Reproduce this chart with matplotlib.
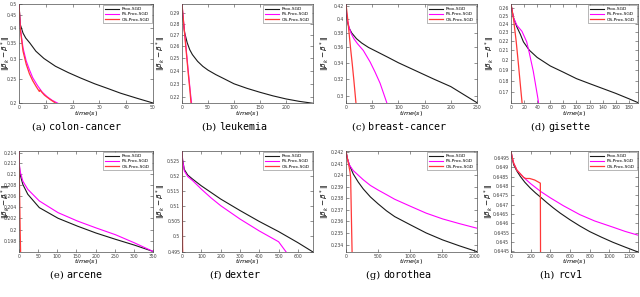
import matplotlib
matplotlib.use("Agg")
import matplotlib.pyplot as plt
from matplotlib.ticker import FixedLocator, FixedFormatter, NullLocator

# ---- data (time in s, ||beta_k - beta*||) ----
# (a) colon-cancer
colon_t_prox = [0, 0.5, 1.5, 2.5, 4, 6.3, 9.3, 13.6, 18.4, 23, 28.2, 33, 37.9, 44, 50]
colon_v_prox = [0.5, 0.413, 0.382, 0.365, 0.349, 0.323, 0.302, 0.281, 0.265, 0.252, 0.239, 0.229, 0.219, 0.209, 0.2]
colon_t_fs = [0, 0.5, 1.5, 2.7, 3.9, 5.1, 6.9, 8.7, 10.5, 12.4, 15.5]
colon_v_fs = [0.5, 0.4, 0.333, 0.295, 0.272, 0.253, 0.235, 0.221, 0.212, 0.205, 0.197]
colon_t_os = [0, 0.5, 1.5, 2.7, 3.9, 5.1, 6.5, 7.6, 7.8, 9.5, 11.5, 14.5]
colon_v_os = [0.5, 0.395, 0.323, 0.286, 0.262, 0.246, 0.232, 0.2225, 0.2255, 0.215, 0.207, 0.197]

# (b) leukemia
leuk_t_prox = [0, 1, 2.5, 5, 10, 15, 20, 30, 40, 50, 65, 80, 100, 125, 150, 175, 200, 225, 252]
leuk_v_prox = [0.2985, 0.29, 0.282, 0.272, 0.263, 0.257, 0.253, 0.2475, 0.2435, 0.2405, 0.237, 0.234, 0.23,
               0.2266, 0.2237, 0.2211, 0.2189, 0.2172, 0.2158]
leuk_t_fs = [0, 4, 8, 12, 16, 19]
leuk_v_fs = [0.2985, 0.277, 0.258, 0.24, 0.224, 0.214]
leuk_t_os = [0, 4, 8, 12, 15.5, 17.5]
leuk_v_os = [0.2985, 0.276, 0.256, 0.238, 0.224, 0.215]

# (c) breast-cancer
breast_t_prox = [0, 1, 3, 6, 11, 20, 30, 43, 60, 80, 100, 133, 167, 200, 250]
breast_v_prox = [0.4235, 0.405, 0.395, 0.387, 0.38, 0.372, 0.366, 0.36, 0.354, 0.347, 0.34, 0.33, 0.32, 0.311, 0.2928]
breast_t_fs = [0, 1, 3, 6, 10, 15, 22, 33, 46, 55, 65, 78]
breast_v_fs = [0.4235, 0.41, 0.398, 0.388, 0.379, 0.372, 0.365, 0.356, 0.341, 0.329, 0.315, 0.2925]
breast_t_os = [0, 3, 6, 9, 12, 15, 19]
breast_v_os = [0.4235, 0.402, 0.379, 0.357, 0.338, 0.3185, 0.2925]

# (d) gisette
gis_t_prox = [0, 2, 4, 9, 14, 19, 28, 40, 60, 80, 100, 120, 140, 160, 180, 194]
gis_v_prox = [0.265, 0.255, 0.247, 0.236, 0.228, 0.219, 0.21, 0.2025, 0.194, 0.188, 0.182, 0.1775, 0.1732, 0.169, 0.1645, 0.1613]
gis_t_fs = [0, 2, 4, 9, 16.7, 24, 28, 34, 41, 43]
gis_v_fs = [0.265, 0.254, 0.247, 0.238, 0.231, 0.219, 0.207, 0.189, 0.165, 0.158]
gis_t_os = [0, 2, 4, 8, 11.6, 15, 17.5]
gis_v_os = [0.265, 0.255, 0.245, 0.219, 0.194, 0.172, 0.158]

# (e) arcene
arc_t_prox = [0, 1, 3, 10, 23, 53, 102, 153, 201, 252, 301, 350]
arc_v_prox = [0.2143, 0.2115, 0.2099, 0.2081, 0.2063, 0.2039, 0.202, 0.2006, 0.1994, 0.1983, 0.1973, 0.1962]
arc_t_fs = [0, 1, 3, 10, 23, 53, 102, 153, 201, 252, 301, 350]
arc_v_fs = [0.2143, 0.2118, 0.2105, 0.2087, 0.2072, 0.2051, 0.203, 0.2015, 0.2003, 0.1991, 0.1977, 0.1962]
arc_t_os = [0, 1.5, 3, 4.5]
arc_v_os = [0.2143, 0.207, 0.2, 0.195]

# (f) dexter
dex_t_prox = [0, 3, 12, 30, 56, 100, 150, 200, 300, 400, 500, 600, 678]
dex_v_prox = [0.5285, 0.5255, 0.5222, 0.5203, 0.5189, 0.5167, 0.5145, 0.5123, 0.5085, 0.5049, 0.5016, 0.498, 0.495]
dex_t_fs = [0, 3, 12, 30, 56, 100, 150, 200, 300, 400, 500, 545]
dex_v_fs = [0.5285, 0.5255, 0.5217, 0.5198, 0.5184, 0.5156, 0.5127, 0.5101, 0.5057, 0.5018, 0.4983, 0.4945]
dex_t_os = [0, 1.5, 3, 4]
dex_v_os = [0.5285, 0.512, 0.497, 0.494]

# (g) dorothea
dor_t_prox = [0, 20, 52, 113, 190, 268, 380, 500, 630, 758, 1000, 1247, 1505, 1763, 2040]
dor_v_prox = [0.2421, 0.2415, 0.2409, 0.2401, 0.2394, 0.2388, 0.2381, 0.2375, 0.2369, 0.2364, 0.2357, 0.235, 0.2344, 0.2339, 0.2334]
dor_t_fs = [0, 20, 52, 113, 190, 268, 380, 500, 630, 758, 1000, 1247, 1505, 1763, 2040]
dor_v_fs = [0.2421, 0.2415, 0.2409, 0.2404, 0.24, 0.2396, 0.2391, 0.2387, 0.2383, 0.2379, 0.2373, 0.2367, 0.2362, 0.2358, 0.2354]
dor_t_os = [0, 20, 45, 62, 72, 96]
dor_v_os = [0.2421, 0.2415, 0.2408, 0.2403, 0.2398, 0.233]

# (h) rcv1
rcv_t_prox = [0, 10, 27, 60, 94, 140, 195, 250, 302, 363, 430, 500, 600, 700, 800, 920, 1035, 1160, 1290]
rcv_v_prox = [0.64988, 0.64955, 0.64914, 0.6488, 0.64852, 0.6482, 0.64789, 0.64762, 0.64739, 0.64711, 0.64682,
              0.64654, 0.64618, 0.64585, 0.64555, 0.64525, 0.64498, 0.64472, 0.64446]
rcv_t_fs = [0, 10, 27, 60, 128, 200, 302, 400, 531, 699, 850, 1035, 1160, 1290]
rcv_v_fs = [0.64988, 0.64958, 0.64923, 0.64885, 0.64846, 0.64812, 0.6477, 0.64736, 0.64694, 0.64646, 0.64612,
            0.64579, 0.64556, 0.64536]
rcv_t_os = [0, 10, 27, 60, 128, 150, 190, 240, 298, 300]
rcv_v_os = [0.64988, 0.64958, 0.64923, 0.64885, 0.64846, 0.6484, 0.6484, 0.64832, 0.64815, 0.6444]

labels = ["Prox-SGD", "FS-Prox-SGD", "OS-Prox-SGD"]
letters = ["a", "b", "c", "d", "e", "f", "g", "h"]
names = ["colon-cancer", "leukemia", "breast-cancer", "gisette", "arcene", "dexter", "dorothea", "rcv1"]

xlims = [(0, 50), (0, 252), (0, 250), (0, 194), (0, 350), (0, 678), (0, 2040), (0, 1290)]
xticks = [range(0, 51, 10), range(0, 201, 50), range(0, 251, 50), range(0, 181, 20),
          range(0, 351, 50), range(0, 601, 100), range(0, 2001, 500), range(0, 1201, 200)]
ylims = [(0.2, 0.5), (0.216, 0.2985), (0.2925, 0.4235), (0.161, 0.265),
         (0.1961, 0.2143), (0.495, 0.5285), (0.23337, 0.24212), (0.64446, 0.64988)]
ytick_labels = [["0.2", "0.25", "0.3", "0.35", "0.4", "0.45", "0.5"],
                ["0.22", "0.23", "0.24", "0.25", "0.26", "0.27", "0.28", "0.29"],
                ["0.3", "0.32", "0.34", "0.36", "0.38", "0.4", "0.42"],
                ["0.17", "0.18", "0.19", "0.2", "0.21", "0.22", "0.23", "0.24", "0.25", "0.26"],
                ["0.198", "0.2", "0.202", "0.204", "0.206", "0.208", "0.21", "0.212", "0.214"],
                ["0.495", "0.5", "0.505", "0.51", "0.515", "0.52", "0.525"],
                ["0.234", "0.235", "0.236", "0.237", "0.238", "0.239", "0.24", "0.241", "0.242"],
                ["0.6445", "0.645", "0.6455", "0.646", "0.6465", "0.647", "0.6475", "0.648", "0.6485", "0.649", "0.6495"]]

curves = [
    (colon_t_prox, colon_v_prox, colon_t_fs, colon_v_fs, colon_t_os, colon_v_os),
    (leuk_t_prox, leuk_v_prox, leuk_t_fs, leuk_v_fs, leuk_t_os, leuk_v_os),
    (breast_t_prox, breast_v_prox, breast_t_fs, breast_v_fs, breast_t_os, breast_v_os),
    (gis_t_prox, gis_v_prox, gis_t_fs, gis_v_fs, gis_t_os, gis_v_os),
    (arc_t_prox, arc_v_prox, arc_t_fs, arc_v_fs, arc_t_os, arc_v_os),
    (dex_t_prox, dex_v_prox, dex_t_fs, dex_v_fs, dex_t_os, dex_v_os),
    (dor_t_prox, dor_v_prox, dor_t_fs, dor_v_fs, dor_t_os, dor_v_os),
    (rcv_t_prox, rcv_v_prox, rcv_t_fs, rcv_v_fs, rcv_t_os, rcv_v_os),
]

# ---- layout in pixels ----
W, H = 640, 297
col_lr = [(19, 153), (182, 313), (346, 477), (511, 638)]
row_tb = [(4, 103), (151, 252)]
# right edge of the rotated y label, per panel
ylab_x = [13, 168, 332, 497, 13, 168, 332, 496]
cap_cx = [76, 235, 399, 561]
xlab_top = [109.5, 257.5]
cap_y = [127, 275]

colors = ["#1a1a1a", "#ff00ff", "#ff3838"]

fig = plt.figure(figsize=(W / 100, H / 100), dpi=100)

caps = []
for i in range(8):
    r, c = divmod(i, 4)
    l, rr = col_lr[c]
    t, b = row_tb[r]
    ax = fig.add_axes([l / W, 1 - b / H, (rr - l) / W, (b - t) / H])
    tp, vp, tf, vf, to, vo = curves[i]
    ax.plot(tp, vp, color=colors[0], lw=0.8, label=labels[0])
    ax.plot(tf, vf, color=colors[1], lw=0.8, label=labels[1])
    ax.plot(to, vo, color=colors[2], lw=0.9, label=labels[2])
    ax.set_yscale("log")
    ax.set_xlim(*xlims[i])
    ax.set_ylim(*ylims[i])
    ax.xaxis.set_major_locator(FixedLocator(list(xticks[i])))
    yt = [float(s) for s in ytick_labels[i]]
    ax.yaxis.set_major_locator(FixedLocator(yt))
    ax.yaxis.set_major_formatter(FixedFormatter(ytick_labels[i]))
    ax.yaxis.set_minor_locator(NullLocator())
    ax.tick_params(direction="in", top=True, right=True, length=2, width=0.4,
                   labelsize=3.3, pad=1.2, colors="0.25")
    for sp in ax.spines.values():
        sp.set_linewidth(0.5)
        sp.set_color("0.3")
    ax.set_xlabel(r"$time(s)$", fontsize=4.6)
    ax.xaxis.set_label_coords(0.5, 1 - (xlab_top[r] - t) / (b - t))
    ax.set_ylabel(r"$\Vert\beta_k-\beta^*\Vert$", fontsize=5.3)
    ax.yaxis.set_label_coords((ylab_x[i] - l) / (rr - l), 0.5)
    ax.legend(loc="upper right", fontsize=3.2, handlelength=3.2, borderpad=0.4,
              labelspacing=0.25, handletextpad=0.6, fancybox=False, edgecolor="0.5",
              framealpha=1, borderaxespad=0.3).get_frame().set_linewidth(0.4)

    yy = 1 - cap_y[r] / H
    t1 = fig.text(0, yy, "(%s) " % letters[i], family="DejaVu Serif", fontsize=7.2,
                  ha="left", va="center")
    t2 = fig.text(0, yy, names[i], family="DejaVu Sans Mono", fontsize=7.2,
                  ha="left", va="center")
    caps.append((t1, t2, cap_cx[c]))

# centre each caption (serif letter + monospace name) under its panel
fig.canvas.draw()
rend = fig.canvas.get_renderer()
for t1, t2, cx in caps:
    w1 = t1.get_window_extent(rend).width
    w2 = t2.get_window_extent(rend).width
    x0 = cx - (w1 + w2) / 2
    t1.set_x(x0 / W)
    t2.set_x((x0 + w1) / W)

fig.savefig("out.png", dpi=100)
